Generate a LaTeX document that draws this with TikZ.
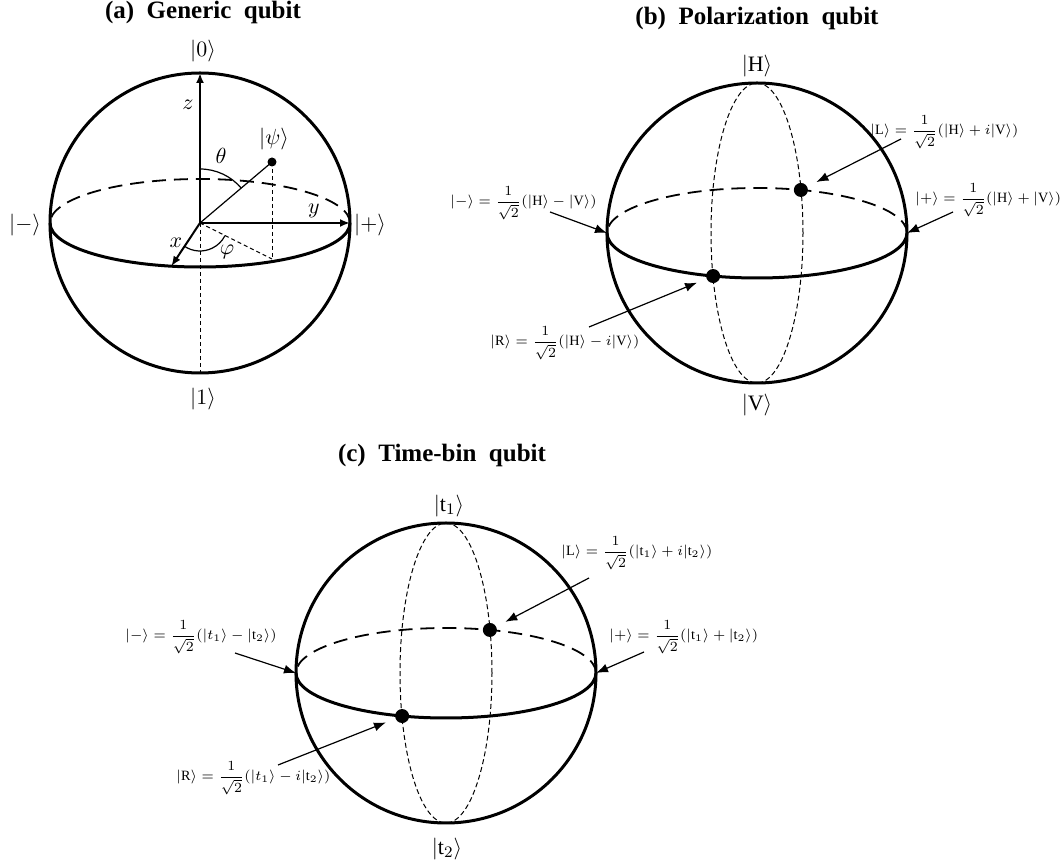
\documentclass[tikz,border=0pt]{standalone}
\usepackage{amsmath}
\usepackage{fontspec}
\setmainfont{Liberation Serif}
\usetikzlibrary{arrows.meta,calc}

\begin{document}
\begin{tikzpicture}[x=0.5pt, y=0.5pt,
  font=\fontsize{11}{13}\selectfont,
  rim/.style={line width=1.5pt},
  frontrim/.style={line width=1.5pt},
  backrim/.style={line width=0.9pt, dash pattern=on 7pt off 4pt},
  meridian/.style={line width=0.5pt, dash pattern=on 2.5pt off 1.5pt},
  axis/.style={line width=1pt, -{Latex[length=5pt,width=4pt]}},
  guide/.style={line width=0.5pt, dash pattern=on 2pt off 1.5pt},
  anglearc/.style={line width=0.6pt},
  pointer/.style={line width=0.6pt, -{Latex[length=6pt,width=4.5pt]}},
  statedot/.style={circle, fill, inner sep=0pt, minimum size=7pt},
  psidot/.style={circle, fill, inner sep=0pt, minimum size=4.5pt},
  formula/.style={font=\fontsize{7.1}{9}\selectfont, inner sep=0pt},
  paneltitle/.style={font=\fontsize{12.5}{15}\selectfont\bfseries},
]
\useasboundingbox (0,0) rectangle (1062,863);

%% ── PANEL (a): Generic qubit ─────────────────────────────────────────────
\begin{scope}[shift={(200,640)}]
  \coordinate (a-O) at (0,0);
  \coordinate (a-top) at (0,150);
  \coordinate (a-bot) at (0,-150);
  \coordinate (a-plus) at (150,0);
  \coordinate (a-xtip) at (259:150 and 44);
  \coordinate (a-proj) at (72,-36);
  \node[psidot] (a-psi) at (72,61) {};

  % Sphere and equator
  \draw[rim] (a-O) circle (150);
  \draw[backrim] (a-plus) arc[start angle=0, end angle=180, x radius=150, y radius=44];
  \draw[frontrim] (-150,0) arc[start angle=180, end angle=360, x radius=150, y radius=44];

  % Axes
  \draw[axis] (a-O) -- (a-top);
  \draw[axis] (a-O) -- (a-plus);
  \draw[axis] (a-O) -- (a-xtip);

  % State vector with its projection
  \draw[line width=0.6pt] (a-O) -- (a-psi.center);
  \draw[guide] (a-psi.center) -- (a-proj);
  \draw[guide] (a-O) -- (a-proj);
  \draw[guide] (a-O) -- (a-bot);

  % Polar and azimuthal angles
  \draw[anglearc] (90:54) arc[start angle=90, end angle=40, radius=54];
  \draw[anglearc] (236:28) arc[start angle=236, end angle=333, radius=28];

  % Labels
  \node[paneltitle] (a-title) at (3,211) {(a)\ \ Generic\ \ qubit};
  \node (a-zero) at (3,172) {$|0\rangle$};
  \node (a-one) at (3,-176) {$|1\rangle$};
  \node (a-minus) at (-175,-2) {$|-\rangle$};
  \node (a-plustxt) at (170,-2) {$|+\rangle$};
  \node (a-z) at (-12,118) {$z$};
  \node (a-psitxt) at (74,84) {$|\psi\rangle$};
  \node (a-theta) at (21,67) {$\theta$};
  \node (a-y) at (114,12) {$y$};
  \node (a-x) at (-24,-20) {$x$};
  \node (a-phi) at (27,-29) {$\varphi$};
\end{scope}

%% ── SPHERES (b) and (c): equator + meridian ──────────────────────────────
\foreach \nm/\cx/\cy in {b/757/630, c/446/190}{
  \begin{scope}[shift={(\cx,\cy)}]
    \draw[rim] (0,0) circle (150);
    \draw[meridian] (0,0) ellipse[x radius=46, y radius=150];
    \draw[backrim] (150,0) arc[start angle=0, end angle=180, x radius=150, y radius=45];
    \draw[frontrim] (-150,0) arc[start angle=180, end angle=360, x radius=150, y radius=45];
    \coordinate (\nm-plus) at (150,0);
    \coordinate (\nm-minus) at (-150,0);
    \node[statedot] (\nm-L) at (73:150 and 45) {};
    \node[statedot] (\nm-R) at (253:150 and 45) {};
  \end{scope}
}

%% ── PANEL (b): Polarization qubit ────────────────────────────────────────
\begin{scope}[shift={(757,630)}]
  \node[paneltitle] (b-title) at (0,215) {(b)\ \ Polarization\ \ qubit};
  \node (b-H) at (0,167) {$|\mathrm{H}\rangle$};
  \node (b-V) at (0,-172) {$|\mathrm{V}\rangle$};

  \node[formula, anchor=west] (b-Ltxt) at (113,101)
    {$|\mathrm{L}\rangle = \dfrac{1}{\sqrt{2}}(|\mathrm{H}\rangle + i|\mathrm{V}\rangle)$};
  \node[formula, anchor=west] (b-plustxt) at (158,33)
    {$|+\rangle = \dfrac{1}{\sqrt{2}}(|\mathrm{H}\rangle + |\mathrm{V}\rangle)$};
  \node[formula, anchor=east] (b-minustxt) at (-160,30)
    {$|-\rangle = \dfrac{1}{\sqrt{2}}(|\mathrm{H}\rangle - |\mathrm{V}\rangle)$};
  \node[formula, anchor=west] (b-Rtxt) at (-267,-110)
    {$|\mathrm{R}\rangle = \dfrac{1}{\sqrt{2}}(|\mathrm{H}\rangle - i|\mathrm{V}\rangle)$};

  \coordinate (b-Lfoot) at (144,94);
  \coordinate (b-plusfoot) at (196,21);
  \coordinate (b-minusfoot) at (-207,21);
  \coordinate (b-Rfoot) at (-168,-94);
  \draw[pointer, shorten >=5pt] (b-Lfoot) -- (b-L);
  \draw[pointer] (b-plusfoot) -- (b-plus);
  \draw[pointer] (b-minusfoot) -- (b-minus);
  \draw[pointer, shorten >=5pt] (b-Rfoot) -- (b-R);
\end{scope}

%% ── PANEL (c): Time-bin qubit ────────────────────────────────────────────
\begin{scope}[shift={(446,190)}]
  \node[paneltitle] (c-title) at (-4,218) {(c)\ \ Time-bin\ \ qubit};
  \node (c-t1) at (3,167) {$|\mathrm{t}_1\rangle$};
  \node (c-t2) at (1,-176) {$|\mathrm{t}_2\rangle$};

  \node[formula, anchor=west] (c-Ltxt) at (115,120)
    {$|\mathrm{L}\rangle = \dfrac{1}{\sqrt{2}}(|\mathrm{t}_1\rangle + i|\mathrm{t}_2\rangle)$};
  \node[formula, anchor=west] (c-plustxt) at (163,36)
    {$|+\rangle = \dfrac{1}{\sqrt{2}}(|\mathrm{t}_1\rangle + |\mathrm{t}_2\rangle)$};
  \node[formula, anchor=east] (c-minustxt) at (-169,36)
    {$|-\rangle = \dfrac{1}{\sqrt{2}}(|t_1\rangle - |\mathrm{t}_2\rangle)$};
  \node[formula, anchor=west] (c-Rtxt) at (-270,-105)
    {$|\mathrm{R}\rangle = \dfrac{1}{\sqrt{2}}(|t_1\rangle - i|\mathrm{t}_2\rangle)$};

  \coordinate (c-Lfoot) at (143,95);
  \coordinate (c-plusfoot) at (198,21);
  \coordinate (c-minusfoot) at (-211,20);
  \coordinate (c-Rfoot) at (-168,-92);
  \draw[pointer, shorten >=5pt] (c-Lfoot) -- (c-L);
  \draw[pointer] (c-plusfoot) -- (c-plus);
  \draw[pointer] (c-minusfoot) -- (c-minus);
  \draw[pointer, shorten >=5pt] (c-Rfoot) -- (c-R);
\end{scope}

\end{tikzpicture}
\end{document}
